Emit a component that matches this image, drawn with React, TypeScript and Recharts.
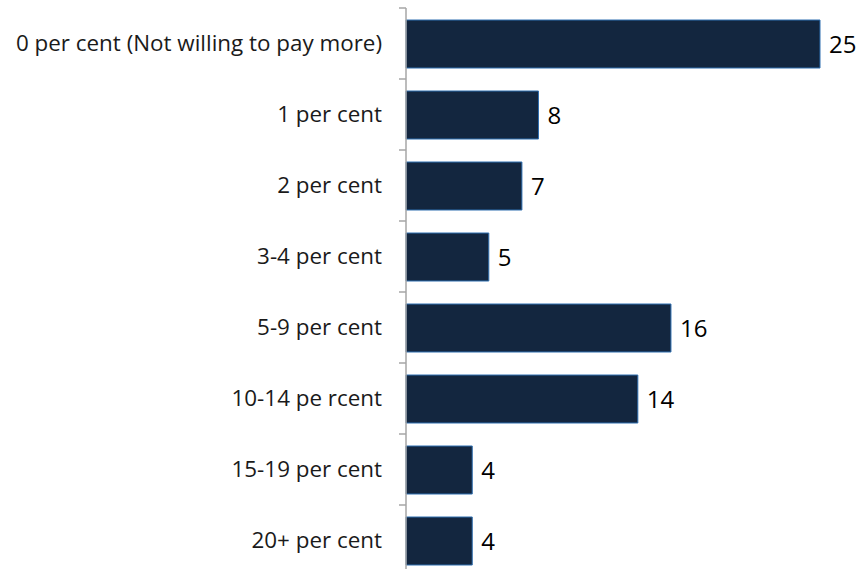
import { Bar, BarChart, LabelList, XAxis, YAxis } from "recharts";

const categories = [
  "0 per cent (Not willing to pay more)",
  "1 per cent",
  "2 per cent",
  "3-4 per cent",
  "5-9 per cent",
  "10-14 pe rcent",
  "15-19 per cent",
  "20+ per cent",
];
const values = [25, 8, 7, 5, 16, 14, 4, 4];

const data = categories.map((name, i) => ({ name, value: values[i] }));

const AXIS_X = 406;
const HALF_BAND = 35.5;
const FONT = "'Open Sans', Lato, sans-serif";

function CategoryTick(props: any) {
  const { y, payload } = props;
  return (
    <g>
      <line x1={AXIS_X - 7} x2={AXIS_X} y1={y - HALF_BAND} y2={y - HALF_BAND} stroke="#a6a6a6" strokeWidth={1.5} />
      <text x={AXIS_X - 24} y={y} dy={7} textAnchor="end" fill="#1a1a1a" fontSize={22.4} fontFamily={FONT}>
        {payload.value}
      </text>
    </g>
  );
}

export default function App() {
  return (
    <div style={{ position: "fixed", left: 0, top: 0, width: 858, height: 569, overflow: "hidden", background: "#fff" }}>
      <BarChart
        width={858}
        height={576}
        data={data}
        layout="vertical"
        margin={{ top: 8, right: 38, bottom: 0, left: 0 }}
      >
        <XAxis type="number" domain={[0, 25]} hide />
        <YAxis
          type="category"
          dataKey="name"
          width={AXIS_X}
          axisLine={{ stroke: "#a6a6a6", strokeWidth: 1.5 }}
          tickLine={false}
          tick={<CategoryTick />}
          interval={0}
        />
        <Bar dataKey="value" fill="#13263f" stroke="#2f6fb0" strokeWidth={1} barSize={48} isAnimationActive={false}>
          <LabelList dataKey="value" position="right" offset={9} fill="#000" fontSize={24} fontFamily={FONT} />
        </Bar>
      </BarChart>
    </div>
  );
}
